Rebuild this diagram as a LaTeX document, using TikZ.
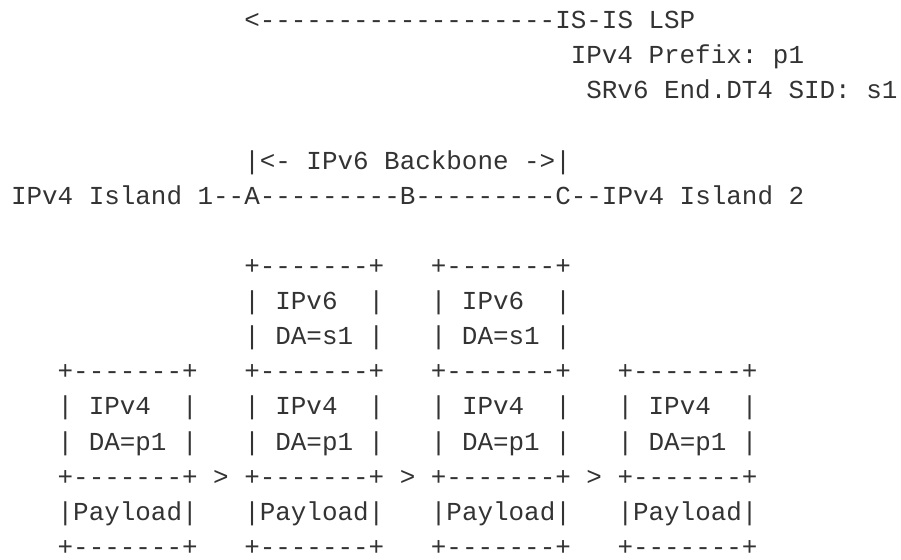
\documentclass[tikz,border=0pt]{standalone}
\usepackage{fontspec}
\setmonofont{Liberation Mono}
\definecolor{ink}{HTML}{333333}
\tikzset{asc/.style={anchor=base west, inner sep=0pt, outer sep=0pt, text=ink,
  font=\ttfamily\fontsize{25.92pt}{35pt}\selectfont}}
\begin{document}
\begin{tikzpicture}
\useasboundingbox[fill=white] (0pt,0pt) rectangle (901pt,-559pt);
\begin{scope}[shift={(11pt,-28.5pt)}, x=15.55pt, y=-35.13pt]
\node[asc] (l0)  at (15,0)  {<-------------------IS-IS~LSP};
\node[asc] (l1)  at (36,1)  {IPv4~Prefix:~p1};
\node[asc] (l2)  at (37,2)  {SRv6~End.DT4~SID:~s1};
\node[asc] (l4)  at (15,4)  {|<-~IPv6~Backbone~->|};
\node[asc] (l5)  at (0,5)   {IPv4~Island~1--A---------B---------C--IPv4~Island~2};
\node[asc] (l7)  at (15,7)  {+-------+~~~+-------+};
\node[asc] (l8)  at (15,8)  {|~IPv6~~|~~~|~IPv6~~|};
\node[asc] (l9)  at (15,9)  {|~DA=s1~|~~~|~DA=s1~|};
\node[asc] (l10) at (3,10)  {+-------+~~~+-------+~~~+-------+~~~+-------+};
\node[asc] (l11) at (3,11)  {|~IPv4~~|~~~|~IPv4~~|~~~|~IPv4~~|~~~|~IPv4~~|};
\node[asc] (l12) at (3,12)  {|~DA=p1~|~~~|~DA=p1~|~~~|~DA=p1~|~~~|~DA=p1~|};
\node[asc] (l13) at (3,13)  {+-------+~>~+-------+~>~+-------+~>~+-------+};
\node[asc] (l14) at (3,14)  {|Payload|~~~|Payload|~~~|Payload|~~~|Payload|};
\node[asc] (l15) at (3,15)  {+-------+~~~+-------+~~~+-------+~~~+-------+};
\end{scope}
\end{tikzpicture}
\end{document}
